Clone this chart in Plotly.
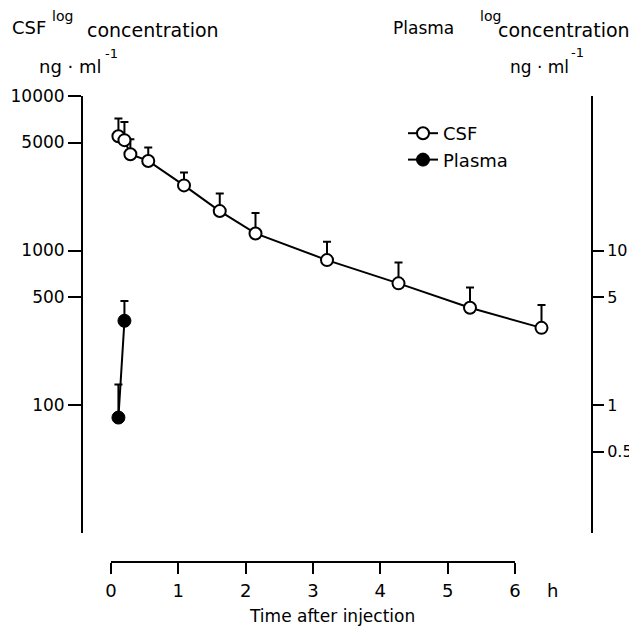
import plotly.graph_objects as go

# ---- data ----
csf_time = [0.083, 0.167, 0.25, 0.5, 1, 1.5, 2, 3, 4, 5, 6]          # h
csf_mean = [5490, 5180, 4200, 3800, 2640, 1800, 1290, 867, 613, 426, 316]  # ng/ml
csf_sd = [1650, 1620, 1050, 840, 560, 540, 460, 273, 224, 151, 128]

plasma_time = [0.083, 0.167]
plasma_mean = [0.83, 3.51]      # ng/ml (right axis)
plasma_sd = [0.53, 1.21]

left_tickvals = [100, 500, 1000, 5000, 10000]
left_ticktext = ["100", "500", "1000", "5000", "10000"]
right_tickvals = [0.5, 1, 5, 10]
right_ticktext = ["0.5", "1", "5", "10"]
hour_ticks = [0, 1, 2, 3, 4, 5, 6]

# ---- layout geometry (screen coords; page body has an 8 px margin) ----
OFF = 8
W, H = 637 - OFF, 629 - OFF
PL, PR, PT, PB = 83, 591, 96, 562          # plot area in screen pixels
ML, MT = PL - OFF, PT - OFF
MR, MB = W - (PR - OFF), H - (PB - OFF)
PW, PH = PR - PL, PB - PT
FONT = "DejaVu Sans"


def px(x):
    return (x - PL) / PW


def py(y):
    return (PB - y) / PH


fig = go.Figure()
fig.add_trace(go.Scatter(
    x=csf_time, y=csf_mean, name="CSF", mode="lines+markers",
    line=dict(color="black", width=2),
    marker=dict(symbol="circle", size=12, color="white",
                line=dict(color="black", width=2)),
    error_y=dict(type="data", symmetric=False, array=csf_sd,
                 arrayminus=[0] * len(csf_sd), color="black",
                 thickness=2, width=4),
    xaxis="x", yaxis="y"))
fig.add_trace(go.Scatter(
    x=plasma_time, y=plasma_mean, name="Plasma", mode="lines+markers",
    line=dict(color="black", width=2),
    marker=dict(symbol="circle", size=13, color="black",
                line=dict(color="black", width=1)),
    error_y=dict(type="data", symmetric=False, array=plasma_sd,
                 arrayminus=[0] * len(plasma_sd), color="black",
                 thickness=2, width=4),
    xaxis="x", yaxis="y2"))
# carrier for the drawn time axis (no visible marks)
fig.add_trace(go.Scatter(
    x=hour_ticks, y=[None] * len(hour_ticks), mode="markers",
    showlegend=False, hoverinfo="skip", xaxis="x2", yaxis="y"))

x0_px, px_per_h = 112.5, 71.5
xr0 = -(x0_px - PL) / px_per_h
xr1 = xr0 + PW / px_per_h

ydom0 = py(533)
axis_common = dict(showgrid=False, zeroline=False, linecolor="black",
                   linewidth=2, tickcolor="black", tickwidth=2,
                   showline=True, ticks="outside", automargin=False)

fig.update_layout(
    template="none",
    width=W, height=H, margin=dict(l=ML, r=MR, t=MT, b=MB, pad=0,
                                   autoexpand=False),
    paper_bgcolor="white", plot_bgcolor="rgba(0,0,0,0)",
    font=dict(family=FONT, color="black", size=17),
    xaxis=dict(domain=[0, 1], range=[xr0, xr1], visible=False,
               showgrid=False, zeroline=False, automargin=False),
    xaxis2=dict(domain=[px(111), px(515)], range=[0, 6], anchor="free",
                position=0, tickvals=hour_ticks, ticklen=11,
                ticklabelstandoff=1, tickfont=dict(size=18),
                **axis_common),
    yaxis=dict(type="log", range=[1.172, 4], domain=[ydom0, 1],
               tickvals=left_tickvals, ticktext=left_ticktext,
               ticklen=13, tickfont=dict(size=17), **axis_common),
    yaxis2=dict(type="log", range=[-0.828, 2], overlaying="y",
                side="right", anchor="x", tickvals=right_tickvals,
                ticktext=right_ticktext, ticklen=11, ticklabelstandoff=0,
                tickfont=dict(size=16), **axis_common),
    showlegend=True,
    legend=dict(x=px(403), y=py(115), xanchor="left", yanchor="top",
                bgcolor="rgba(0,0,0,0)", borderwidth=0,
                font=dict(size=18)),
)

ann = [
    ("CSF", 28.5, 28, 18, "center"),
    ("log", 62, 16, 14, "center"),
    ("concentration", 153, 30, 19, "center"),
    ("ng · ml", 37, 67, 18, "left"),
    ("-1", 111, 53, 13, "center"),
    ("Plasma", 423, 28, 17, "center"),
    ("log", 490, 16, 14, "center"),
    ("concentration", 564, 30, 19, "center"),
    ("ng · ml", 571, 67, 17, "right"),
    ("-1", 577, 52, 13, "center"),
    ("h", 552, 590, 18, "center"),
    ("Time after injection", 332, 616, 17, "center"),
]
for text, x, y, size, xa in ann:
    fig.add_annotation(text=text, xref="paper", yref="paper", x=px(x),
                       y=py(y), xanchor=xa, yanchor="middle",
                       showarrow=False, font=dict(size=size, family=FONT))

fig.write_html("out.html")
